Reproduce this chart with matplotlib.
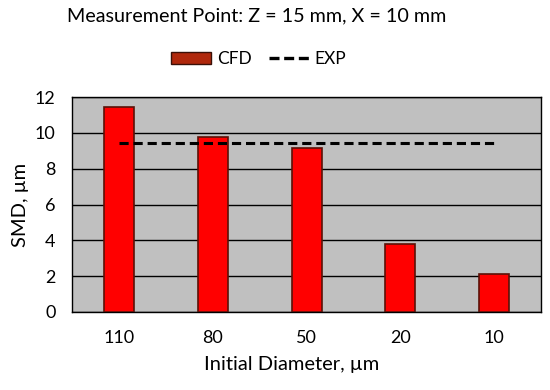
import matplotlib
matplotlib.use("Agg")
import matplotlib.pyplot as plt
import matplotlib.patches as mpatches
from matplotlib.lines import Line2D

plt.rcParams['font.family'] = ['Lato', 'DejaVu Sans']

diameters = ["110", "80", "50", "20", "10"]
cfd_smd = [11.45, 9.78, 9.18, 3.8, 2.1]
exp_smd = [9.45, 9.45, 9.45, 9.45, 9.45]

fig = plt.figure(figsize=(5.5, 3.9), dpi=100)
ax = fig.add_axes([0.131, 0.2, 0.853, 0.551])

x = range(len(diameters))
ax.set_facecolor("#C0C0C0")
ax.bar(x, cfd_smd, width=0.32, color="#FF0000", edgecolor="#5A1208",
       linewidth=1.2, zorder=3)
ax.plot(list(x), exp_smd, color="black", linestyle=(0, (3, 1.6)),
        linewidth=2.2, zorder=4)

ax.set_xlim(-0.5, len(diameters) - 0.5)
ax.set_ylim(0, 12)
ax.set_yticks(range(0, 13, 2))
ax.set_xticks(list(x))
ax.set_xticklabels(diameters)
ax.yaxis.grid(True, color="black", linewidth=1, zorder=1)
ax.set_axisbelow(True)
ax.tick_params(length=0, labelsize=13)
ax.tick_params(axis="x", pad=13)
ax.tick_params(axis="y", pad=12)
for s in ax.spines.values():
    s.set_color("black")
    s.set_linewidth(1)

ax.set_xlabel("Initial Diameter, µm", fontsize=14.5, labelpad=7, x=0.467)
ax.set_ylabel("SMD, µm", fontsize=14.5, labelpad=4)

fig.text(0.466, 0.96, "Measurement Point: Z = 15 mm, X = 10 mm",
         ha="center", va="center", fontsize=14.2)

handles = [mpatches.Patch(facecolor="#B0280C", edgecolor="#3A1008", label="CFD"),
           Line2D([0], [0], color="black", linestyle=(0, (3, 1.4)), linewidth=2.4, label="EXP")]
fig.legend(handles=handles, loc="center", bbox_to_anchor=(0.47, 0.848), ncol=2,
           frameon=False, fontsize=12.5, handlelength=2.3, columnspacing=1.0,
           handletextpad=0.35)

fig.savefig("out.png", dpi=100)
